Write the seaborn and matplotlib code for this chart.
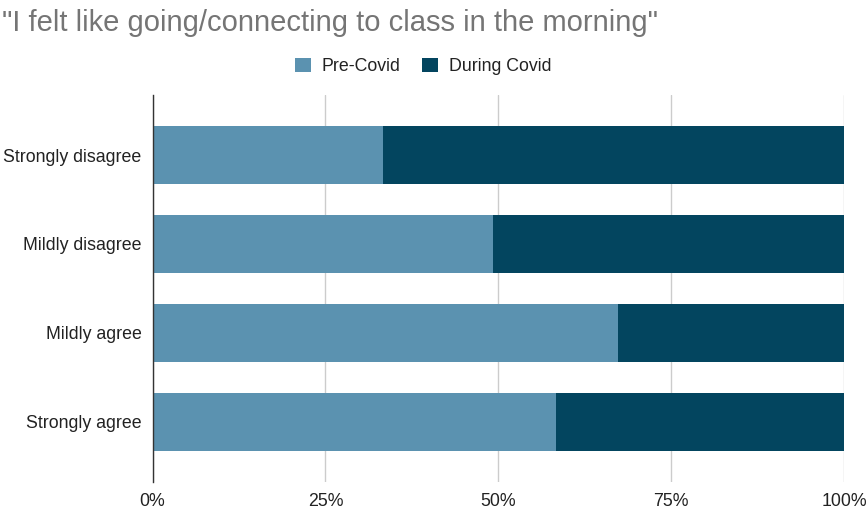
import pandas as pd
import matplotlib.pyplot as plt
import seaborn as sns
from matplotlib.ticker import PercentFormatter

# Share of answers (percent) per response category
categories = ["Strongly disagree", "Mildly disagree", "Mildly agree", "Strongly agree"]
pre_covid = [33.3, 49.3, 67.3, 58.4]
during_covid = [66.7, 50.7, 32.7, 41.6]

PRE_COLOR = "#5b92b0"
DURING_COLOR = "#03455f"

df = pd.DataFrame({"answer": categories, "pre": pre_covid, "during": during_covid})
df["total"] = df["pre"] + df["during"]

sns.set_style("white")
plt.rcParams["font.family"] = ["Liberation Sans", "DejaVu Sans"]

fig = plt.figure(figsize=(8.67, 5.15), dpi=100)
ax = fig.add_axes([0.176, 0.064, 0.7975, 0.752])

# stacked: draw the full bar in the dark colour, then the pre-covid part on top
sns.barplot(data=df, y="answer", x="total", color=DURING_COLOR, width=0.65,
            orient="h", ax=ax, saturation=1, label="During Covid", linewidth=0)
sns.barplot(data=df, y="answer", x="pre", color=PRE_COLOR, width=0.65,
            orient="h", ax=ax, saturation=1, label="Pre-Covid", linewidth=0)

ax.set_xlim(0, 100)
ax.set_ylim(3.68, -0.68)
ax.set_xticks([0, 25, 50, 75, 100])
ax.xaxis.set_major_formatter(PercentFormatter(decimals=0))
ax.grid(axis="x", color="#cccccc", linewidth=1)
ax.set_axisbelow(True)
for side in ["top", "right", "bottom"]:
    ax.spines[side].set_visible(False)
ax.spines["left"].set_color("#333333")
ax.spines["left"].set_linewidth(1)
ax.tick_params(axis="both", length=0, labelsize=12.8, colors="#222222")
ax.tick_params(axis="x", pad=8)
ax.tick_params(axis="y", pad=8)
ax.set_xlabel("")
ax.set_ylabel("")
if ax.get_legend() is not None:
    ax.get_legend().remove()

handles, labels = ax.get_legend_handles_labels()
order = [labels.index("Pre-Covid"), labels.index("During Covid")]
fig.legend([handles[i] for i in order], [labels[i] for i in order],
           loc="center", bbox_to_anchor=(0.488, 0.871), ncol=2, frameon=False,
           fontsize=12.8, handlelength=0.9, handleheight=0.9, columnspacing=1.2,
           handletextpad=0.6, labelcolor="#222222")

fig.text(0.002, 0.955, '"I felt like going/connecting to class in the morning"',
         fontsize=21, color="#757575", ha="left", va="center")

fig.savefig("out.png", dpi=100)
